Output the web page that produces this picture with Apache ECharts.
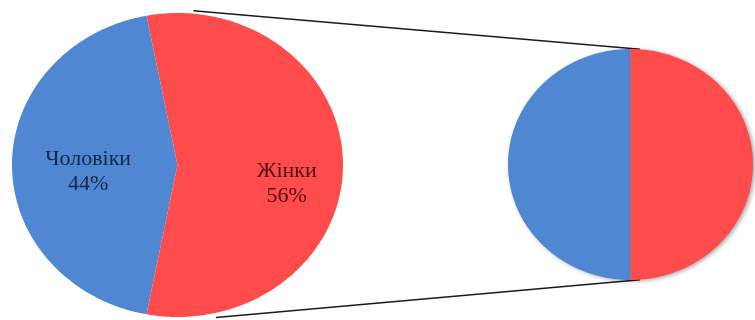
<!DOCTYPE html>
<html>
<head>
<meta charset="utf-8">
<script src="https://cdn.jsdelivr.net/npm/echarts@6/dist/echarts.min.js"></script>
<style>
    html, body { margin: 0; padding: 0; background: #fff; }
    #chart { width: 755px; height: 320px; }
</style>
</head>
<body>
<div id="chart"></div>
<script>
    // main pie + detail pie (pie of pie)
    const sexLabels = ['Чоловіки', 'Жінки'];
    const sexValues = [44, 56];
    const detailValues = [50, 50];

    const sliceColors = ['#4f87d2', '#fe4b4b'];
    const labelColors = ['#172645', '#4d1414'];
    // label anchor: fraction of radius on mid angle, plus pixel drop
    const labelSpots = [{r: 0.54, dy: 7}, {r: 0.66, dy: 19}];

    const rad = d => d * Math.PI / 180;

    function wedges (values, withLabels, shadow) {
        const total = values.reduce((a, b) => a + b, 0);
        const start = 180 - values[0] / total * 180;
        return function (params, api) {
            const i = params.dataIndex;
            let before = 0;
            for (let k = 0; k < i; k++) before += values[k];
            const a0 = start + before / total * 360;
            const a1 = a0 + api.value(0) / total * 360;
            const pts = [api.coord([0, 0])];
            for (let a = a0; a < a1; a += 1) {
                pts.push(api.coord([Math.cos(rad(a)), Math.sin(rad(a))]));
            }
            pts.push(api.coord([Math.cos(rad(a1)), Math.sin(rad(a1))]));
            const children = [{
                type: 'polygon',
                shape: {points: pts},
                style: Object.assign({fill: sliceColors[i]}, shadow ? {
                    shadowBlur: 4,
                    shadowOffsetX: 2,
                    shadowOffsetY: 1,
                    shadowColor: 'rgba(0,0,0,0.35)'
                } : {})
            }];
            if (withLabels) {
                const mid = rad((a0 + a1) / 2);
                const s = labelSpots[i];
                const c = api.coord([s.r * Math.cos(mid), s.r * Math.sin(mid)]);
                children.push({
                    type: 'text',
                    x: c[0],
                    y: c[1] + s.dy,
                    z2: 10,
                    style: {
                        text: sexLabels[i] + '\n' + Math.round(api.value(0) / total * 100) + '%',
                        fill: labelColors[i],
                        font: '22px "Liberation Serif"',
                        lineHeight: 25,
                        align: 'center',
                        verticalAlign: 'middle'
                    }
                });
            }
            return {type: 'group', children: children};
        };
    }

    const hiddenAxis = idx => ({gridIndex: idx, type: 'value', min: -1, max: 1, show: false});

    const chart = echarts.init(document.getElementById('chart'));
    chart.setOption({
        animation: false,
        backgroundColor: '#fff',
        grid: [
            {left: 12, top: 13, width: 331, height: 304},
            {left: 508, top: 49, width: 245, height: 231}
        ],
        xAxis: [hiddenAxis(0), hiddenAxis(1)],
        yAxis: [hiddenAxis(0), hiddenAxis(1)],
        series: [
            {
                type: 'custom',
                xAxisIndex: 0,
                yAxisIndex: 0,
                z: 3,
                renderItem: wedges(sexValues, true, false),
                data: sexValues.map((v, i) => [v, i])
            },
            {
                type: 'custom',
                xAxisIndex: 1,
                yAxisIndex: 1,
                z: 3,
                renderItem: wedges(detailValues, false, true),
                data: detailValues.map((v, i) => [v, i])
            }
        ]
    });

    // connector lines between the two pies
    const onEdge = (g, deg, r) => chart.convertToPixel({gridIndex: g},
        [r * Math.cos(rad(deg)), r * Math.sin(rad(deg))]);
    const top0 = onEdge(0, 84.6, 1.02), top1 = onEdge(1, 85.5, 1);
    const bot0 = onEdge(0, -77, 1.03), bot1 = onEdge(1, -85.5, 1);
    chart.setOption({
        graphic: [
            {type: 'line', z: 1, shape: {x1: top0[0], y1: top0[1], x2: top1[0], y2: top1[1]},
                style: {stroke: '#1a1a1a', lineWidth: 1.5}},
            {type: 'line', z: 1, shape: {x1: bot0[0], y1: bot0[1], x2: bot1[0], y2: bot1[1]},
                style: {stroke: '#1a1a1a', lineWidth: 1.5}}
        ]
    });
</script>
</body>
</html>
